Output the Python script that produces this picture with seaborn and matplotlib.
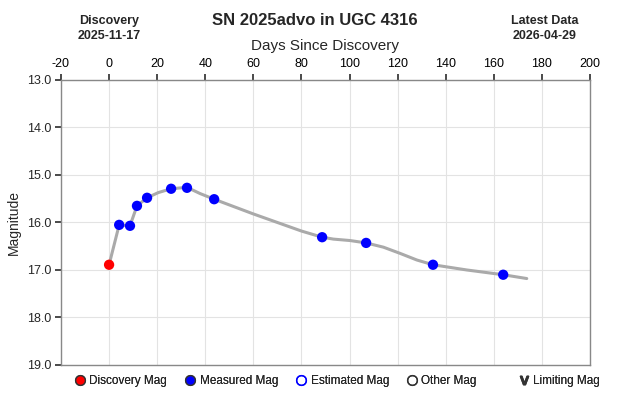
import numpy as np
import pandas as pd
import seaborn as sns
import matplotlib.pyplot as plt
from matplotlib.lines import Line2D

# Data
disc_day = [0.0]
disc_mag = [16.89]

meas_days = [4.2, 8.7, 11.6, 15.8, 25.8, 32.4, 43.7, 88.6, 106.9, 134.7, 163.9]
meas_mags = [16.05, 16.07, 15.65, 15.48, 15.29, 15.27, 15.51, 16.31, 16.43, 16.89, 17.10]

# Smoothed fit curve
fit_days = [0.0, 4.2, 8.7, 11.6, 15.8, 20.5, 25.8, 32.4, 37.8, 43.7, 50.0, 60.0, 70.0,
            80.0, 88.6, 93.3, 100.2, 106.9, 114.1, 121.0, 128.0, 134.7, 148.8, 163.9, 173.7]
fit_mags = [16.89, 16.05, 16.07, 15.65, 15.48, 15.37, 15.29, 15.26, 15.39, 15.51, 15.63, 15.82, 16.00,
            16.18, 16.31, 16.35, 16.38, 16.43, 16.52, 16.65, 16.79, 16.89, 17.00, 17.10, 17.18]

x_ticks = [-20, 0, 20, 40, 60, 80, 100, 120, 140, 160, 180, 200]
y_ticks = [13.0, 14.0, 15.0, 16.0, 17.0, 18.0, 19.0]

legend_labels = ["Discovery Mag", "Measured Mag", "Estimated Mag", "Other Mag", "Limiting Mag"]

sns.set_theme(style="whitegrid")
plt.rcParams['font.family'] = ['Liberation Sans', 'DejaVu Sans']
plt.rcParams['axes.unicode_minus'] = False

fig = plt.figure(figsize=(6.3, 4.05), dpi=100)
ax = fig.add_axes([0.0968, 0.0988, 0.8397, 0.7037])

fit = pd.DataFrame({"day": fit_days, "mag": fit_mags})
meas = pd.DataFrame({"day": meas_days, "mag": meas_mags})
disc = pd.DataFrame({"day": disc_day, "mag": disc_mag})

sns.lineplot(data=fit, x="day", y="mag", sort=False, color="#aaaaaa", linewidth=2.2, ax=ax, zorder=2)
sns.scatterplot(data=meas, x="day", y="mag", color="#0000ff", s=55, edgecolor="none", ax=ax, zorder=3)
sns.scatterplot(data=disc, x="day", y="mag", color="#ff0000", s=55, edgecolor="none", ax=ax, zorder=3)

ax.set_xlim(-20, 200)
ax.set_ylim(19.0, 13.0)
ax.set_xticks(x_ticks)
ax.set_yticks(y_ticks)
ax.set_yticklabels([f"{v:.1f}" for v in y_ticks])
ax.xaxis.tick_top()
ax.xaxis.set_label_position("top")
ax.tick_params(axis="x", which="both", top=True, bottom=False, length=4, color="#333333",
               labelsize=9, pad=3, labelcolor="black")
ax.tick_params(axis="y", left=True, length=4, color="#333333", labelsize=9, pad=3)
ax.grid(True, color="#e3e3e3", linewidth=0.8)
for s in ax.spines.values():
    s.set_color("#888888")
    s.set_linewidth(1.0)

ax.set_xlabel("Days Since Discovery", fontsize=11, labelpad=6)
ax.set_ylabel("Magnitude", fontsize=10, labelpad=4)

fig.text(0.5, 0.95, "SN 2025advo in UGC 4316", ha="center", va="center", fontsize=12, fontweight="bold")
fig.text(0.173, 0.93, "Discovery\n2025-11-17", ha="center", va="center", fontsize=9,
         fontweight="bold", linespacing=1.3)
fig.text(0.865, 0.93, "Latest Data\n2026-04-29", ha="center", va="center", fontsize=9,
         fontweight="bold", linespacing=1.3)

# Legend row along the bottom
handles = [
    Line2D([], [], marker="o", linestyle="none", markerfacecolor="#ff0000", markeredgecolor="#333333", markersize=7),
    Line2D([], [], marker="o", linestyle="none", markerfacecolor="#0000ff", markeredgecolor="#333333", markersize=7),
    Line2D([], [], marker="o", linestyle="none", markerfacecolor="none", markeredgecolor="#0000ff", markersize=7),
    Line2D([], [], marker="o", linestyle="none", markerfacecolor="none", markeredgecolor="#333333", markersize=7),
    Line2D([], [], marker="$\\mathsf{v}$", linestyle="none", color="#333333", markersize=6),
]
leg_x = [0.117, 0.293, 0.469, 0.644, 0.822]
for h, lab, lx in zip(handles, legend_labels, leg_x):
    lg = fig.legend(handles=[h], labels=[lab], loc="center left", bbox_to_anchor=(lx, 0.06),
                    frameon=False, fontsize=8.5, handletextpad=0.3, handlelength=1.0,
                    borderpad=0, borderaxespad=0)
    fig.add_artist(lg)

fig.savefig("out.png", dpi=100)
